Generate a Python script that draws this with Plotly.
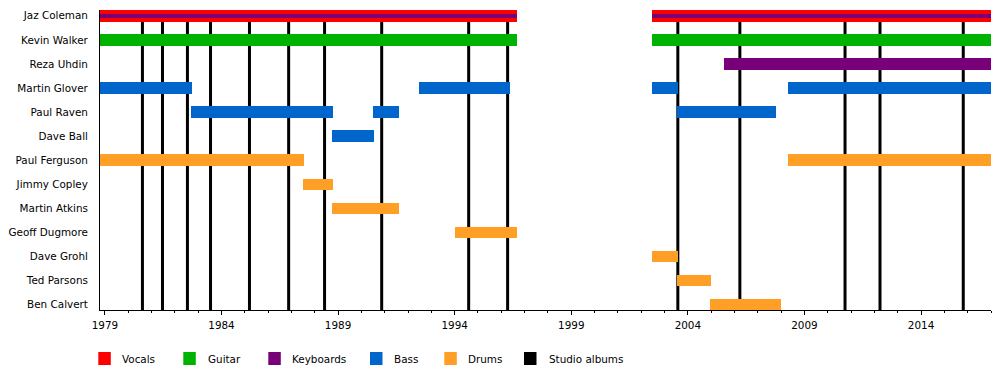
import plotly.graph_objects as go

# ---------------- data ----------------
members = ["Jaz Coleman", "Kevin Walker", "Reza Uhdin", "Martin Glover", "Paul Raven",
           "Dave Ball", "Paul Ferguson", "Jimmy Copley", "Martin Atkins", "Geoff Dugmore",
           "Dave Grohl", "Ted Parsons", "Ben Calvert"]

vocals_member = ["Jaz Coleman", "Jaz Coleman"]
vocals_start = [1978.81, 2002.48]
vocals_end = [1996.69, 2017.0]

keys_member = ["Jaz Coleman", "Jaz Coleman", "Reza Uhdin"]
keys_start = [1978.81, 2002.48, 2005.53]
keys_end = [1996.69, 2017.0, 2017.0]
keys_thin = [True, True, False]

guitar_member = ["Kevin Walker", "Kevin Walker"]
guitar_start = [1978.81, 2002.48]
guitar_end = [1996.69, 2017.0]

bass_member = ["Martin Glover", "Martin Glover", "Martin Glover", "Martin Glover",
               "Paul Raven", "Paul Raven", "Paul Raven", "Dave Ball"]
bass_start = [1978.81, 1992.48, 2002.48, 2008.29, 1982.70, 1990.51, 2003.53, 1988.75]
bass_end = [1982.74, 1996.39, 2003.57, 2017.0, 1988.79, 1991.63, 2007.80, 1990.56]

drums_member = ["Paul Ferguson", "Paul Ferguson", "Jimmy Copley", "Martin Atkins",
                "Geoff Dugmore", "Dave Grohl", "Ted Parsons", "Ben Calvert"]
drums_start = [1978.81, 2008.29, 1987.51, 1988.75, 1994.00, 2002.48, 2003.53, 2004.95]
drums_end = [1987.55, 2017.0, 1988.79, 1991.63, 1996.69, 2003.57, 2004.99, 2008.01]

album_years = [1980.61, 1981.47, 1982.54, 1983.53, 1985.20, 1986.88, 1988.42, 1990.87,
               1994.60, 1996.27, 2003.57, 2006.23, 2010.74, 2012.24, 2015.81]

legend_labels = ["Vocals", "Guitar", "Keyboards", "Bass", "Drums", "Studio albums"]

# ---------------- styles ----------------
C_VOC = "#FF0000"
C_GUIT = "#00B300"
C_KEYS = "#780078"
C_BASS = "#0066CC"
C_DRUM = "#FF9F26"
C_ALB = "#000000"
legend_colors = [C_VOC, C_GUIT, C_KEYS, C_BASS, C_DRUM, C_ALB]
FONT = "DejaVu Sans"
FS = 10.4
BW = 0.48

fig = go.Figure()


def add_bars(mem, st, en, color, width):
    fig.add_trace(go.Bar(
        y=mem, x=[e - s for s, e in zip(st, en)], base=st, orientation="h",
        marker=dict(color=color, line=dict(width=0)), width=width,
        showlegend=False, hoverinfo="skip"))


add_bars(vocals_member, vocals_start, vocals_end, C_VOC, BW)
add_bars(guitar_member, guitar_start, guitar_end, C_GUIT, BW)
add_bars(bass_member, bass_start, bass_end, C_BASS, BW)
add_bars(drums_member, drums_start, drums_end, C_DRUM, BW)
# keyboards: full bar for dedicated players, thin stripe for vocalist
kt_m = [m for m, t in zip(keys_member, keys_thin) if t]
kt_s = [s for s, t in zip(keys_start, keys_thin) if t]
kt_e = [e for e, t in zip(keys_end, keys_thin) if t]
kf_m = [m for m, t in zip(keys_member, keys_thin) if not t]
kf_s = [s for s, t in zip(keys_start, keys_thin) if not t]
kf_e = [e for e, t in zip(keys_end, keys_thin) if not t]
add_bars(kf_m, kf_s, kf_e, C_KEYS, BW)
add_bars(kt_m, kt_s, kt_e, C_KEYS, 0.18)

# studio album lines (behind bars)
for yr in album_years:
    fig.add_shape(type="line", xref="x", yref="paper", x0=yr, x1=yr, y0=0, y1=1,
                  line=dict(color=C_ALB, width=3), layer="below")

# manual legend
sq_x = [98.3, 183.3, 268.3, 370.0, 444.3, 524.0]
tx_x = [120.0, 205.7, 290.3, 392.3, 466.3, 546.7]
L, R, T, B = 100, 9, 10, 80
PW, PH = 1000 - L - R, 390 - T - B
for lab, col, sx, tx in zip(legend_labels, legend_colors, sq_x, tx_x):
    fig.add_shape(type="rect", xref="paper", yref="paper",
                  x0=(sx - L) / PW, x1=(sx + 12.5 - L) / PW,
                  y0=(390 - B - 365) / PH, y1=(390 - B - 352) / PH,
                  fillcolor=col, line=dict(width=0))
    fig.add_annotation(xref="paper", yref="paper", x=(tx - L) / PW, y=(390 - B - 359) / PH,
                       text=lab, showarrow=False, xanchor="left", yanchor="middle",
                       font=dict(family=FONT, size=FS, color="black"))

fig.update_layout(
    width=1000, height=390,
    margin=dict(l=L, r=R, t=T, b=B, pad=0),
    paper_bgcolor="white", plot_bgcolor="white",
    barmode="overlay", bargap=0,
    font=dict(family=FONT, size=FS, color="black"),
    xaxis=dict(range=[1978.79, 2017.0], tick0=1979, dtick=5, ticks="outside", ticklen=4,
               tickcolor="black", tickwidth=1, showgrid=False, zeroline=False,
               showline=True, linecolor="black", linewidth=1, ticklabelstandoff=2,
               minor=dict(ticks="outside", ticklen=2, dtick=1, tick0=1979,
                          tickcolor="black", showgrid=False),
               tickfont=dict(family=FONT, size=FS, color="black")),
    yaxis=dict(type="category", categoryorder="array", categoryarray=members,
               range=[12.22, -0.24], showgrid=False, zeroline=False,
               showline=True, linecolor="black", linewidth=1, ticks="",
               ticklabelstandoff=9,
               tickfont=dict(family=FONT, size=FS, color="black")),
)

fig.write_html("out.html", config={"displayModeBar": False},
               post_script="document.body.style.margin='0px';document.body.style.overflow='hidden';")
